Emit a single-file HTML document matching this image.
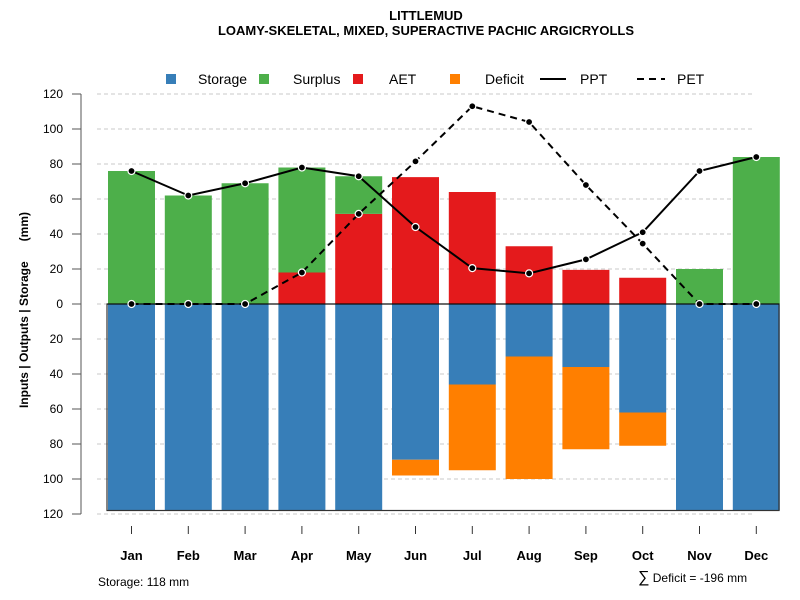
<!DOCTYPE html>
<html><head><meta charset="utf-8"><style>
body{margin:0;background:#fff;}
svg{display:block;font-family:"Liberation Sans",sans-serif;}
</style></head><body>
<svg id="chart" width="800" height="600" viewBox="0 0 800 600" xmlns="http://www.w3.org/2000/svg">
<text x="426" y="20" text-anchor="middle" font-size="13" font-weight="bold">LITTLEMUD</text>
<text x="426" y="35" text-anchor="middle" font-size="13" font-weight="bold">LOAMY-SKELETAL, MIXED, SUPERACTIVE PACHIC ARGICRYOLLS</text>
<g id="legend"></g>
<g id="grid"></g><g id="bars"></g><g id="lines"></g><g id="axes"></g>
<text transform="translate(28,310) rotate(-90)" text-anchor="middle" font-size="12" font-weight="bold" style="white-space:pre">Inputs | Outputs | Storage      (mm)</text>
<text x="98" y="586" font-size="12">Storage: 118 mm</text>
<text x="638" y="582" font-size="12"><tspan font-size="16">∑</tspan> Deficit = -196 mm</text>
</svg>
<script>
const months=["Jan","Feb","Mar","Apr","May","Jun","Jul","Aug","Sep","Oct","Nov","Dec"];
const ppt=[76,62,69,78,73,44,20.5,17.5,25.5,41,76,84];
const pet=[0,0,0,18,51.5,81.5,113,104,68,34.5,0,0];
const aet=[0,0,0,18,51.5,72.5,64,33,19.5,15,0,0];
const surplus=[76,62,69,60,21.5,0,0,0,0,0,20,84];
const storage=[118,118,118,118,118,89,46,30,36,62,118,118];
const deficit=[0,0,0,0,0,9,49,70,47,19,0,0];
const yTicks=[120,100,80,60,40,20,0,-20,-40,-60,-80,-100,-120];
const capacity=118;
const NS="http://www.w3.org/2000/svg";
const y=v=>304-v*1.75;
const x=i=>131.5+i*56.8;
const bw=47;
function mk(tag,attrs,parent){const e=document.createElementNS(NS,tag);for(const k in attrs)e.setAttribute(k,attrs[k]);document.getElementById(parent).appendChild(e);return e;}
mk("line",{x1:81,x2:81,y1:y(120),y2:y(-120),stroke:"#555"},"axes");
yTicks.forEach(t=>{
 const g=mk("line",{x1:97,x2:755,y1:y(t),y2:y(t),stroke:"#c8c8c8","stroke-dasharray":"4,3"},"grid");
 
 
 mk("line",{x1:72,x2:81,y1:y(t),y2:y(t),stroke:"#555"},"axes");
 const l=mk("text",{x:63,y:y(t)+4,"text-anchor":"end","font-size":"12"},"axes");l.textContent=Math.abs(t);
 
 
});
months.forEach((m,i)=>{
 const x0=x(i)-bw/2;
 const r=(a,b,c,n)=>{if(Math.abs(b-a)<0.01)return;const e=mk("rect",{x:x0,y:y(Math.max(a,b)),width:bw,height:Math.abs(b-a)*1.75,fill:c},"bars");
  
  };
 r(0,aet[i],"#E41A1C","bar-aet-"+m.toLowerCase());
 r(aet[i],aet[i]+surplus[i],"#4DAF4A","bar-surplus-"+m.toLowerCase());
 r(0,-storage[i],"#377EB8","bar-storage-"+m.toLowerCase());
 r(-storage[i],-storage[i]-deficit[i],"#FF7F00","bar-deficit-"+m.toLowerCase());
 mk("line",{x1:x(i),x2:x(i),y1:526,y2:534,stroke:"#333"},"axes");
 const t=mk("text",{x:x(i),y:560,"text-anchor":"middle","font-size":"13","font-weight":"bold"},"axes");t.textContent=m;
 
 
});
const box=mk("rect",{x:107,y:y(0),width:672,height:capacity*1.75,fill:"none",stroke:"#333","stroke-width":1.2},"bars");


mk("line",{x1:107,x2:779,y1:y(0),y2:y(0),stroke:"#000"},"bars");
function series(d,dash,n){
 const p=mk("polyline",{points:d.map((v,i)=>x(i)+","+y(v)).join(" "),fill:"none",stroke:"#000","stroke-width":2,"stroke-dasharray":dash},"lines");
 
 
 d.forEach((v,i)=>{const c=mk("circle",{cx:x(i),cy:y(v),r:3.5,fill:"#000",stroke:"#fff","stroke-width":1.2},"lines");
  
  });
}
series(pet,"7,5","pet");
series(ppt,"none","ppt");
const leg=[["Storage","#377EB8",171,198],["Surplus","#4DAF4A",264,293],["AET","#E41A1C",358,389],["Deficit","#FF7F00",455,485]];
leg.forEach(l=>{
 const s=mk("rect",{x:l[2]-5,y:74,width:10,height:10,fill:l[1]},"legend");
 
 
 const t=mk("text",{x:l[3],y:84,"font-size":"14"},"legend");t.textContent=l[0];
 
 
});
mk("line",{x1:540,x2:566,y1:79,y2:79,stroke:"#000","stroke-width":2},"legend");
let t1=mk("text",{x:580,y:84,"font-size":"14"},"legend");t1.textContent="PPT";


mk("line",{x1:637,x2:665,y1:79,y2:79,stroke:"#000","stroke-width":2,"stroke-dasharray":"7,5"},"legend");
let t2=mk("text",{x:677,y:84,"font-size":"14"},"legend");t2.textContent="PET";


</script>
</body></html>
